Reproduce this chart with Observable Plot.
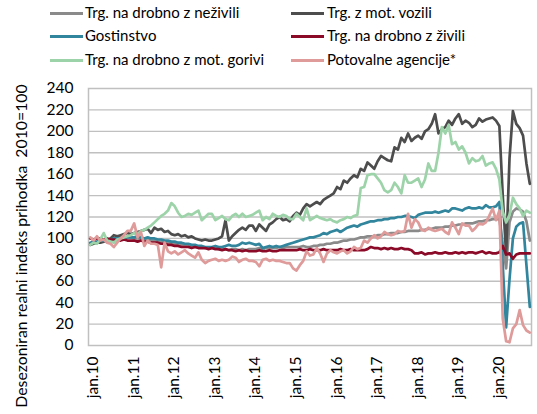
<!DOCTYPE html>
<html>
<head>
<meta charset="utf-8">
<script src="https://cdn.jsdelivr.net/npm/d3@7"></script>
<script src="https://cdn.jsdelivr.net/npm/@observablehq/plot@0.6"></script>
<style>
  html, body { margin: 0; padding: 0; background: #fff; }
  #wrap { position: relative; width: 537px; height: 414px; font-family: Lato, sans-serif; color: #000; overflow: hidden; }
  #chart { position: absolute; left: 0; top: 0; }
  .leg { position: absolute; font-size: 15px; line-height: 1; white-space: nowrap; }
  .sw { position: absolute; width: 33px; height: 3px; }
  #ylab { position: absolute; left: 20px; top: 246px; transform: translate(-50%, -50%) rotate(-90deg); font-size: 15.8px; white-space: pre; }
</style>
</head>
<body>
<div id="wrap">
  <div id="chart"></div>
  <div id="legend"></div>
  <div id="ylab">Desezoniran realni indeks prihodka  2010=100</div>
</div>
<script>
// ---- Data (monthly, jan.10 – nov.20) ----
const seriesNames = [
  "Trg. na drobno z neživili",
  "Trg. z mot. vozili",
  "Gostinstvo",
  "Trg. na drobno z živili",
  "Trg. na drobno z mot. gorivi",
  "Potovalne agencije*"
];
const seriesColors = ["#8a8a8a", "#4d4d4d", "#31859c", "#8b0a27", "#9dd3a8", "#df9a9a"];

const neziv = [
  95,96,96,97,98,99,99,100,100,101,100,101,
  101,100,100,100,99,99,98,98,97,97,96,96,
  96,95,95,94,94,93,93,92,92,92,91,91,
  91,91,90,90,90,89,90,90,89,90,89,90,
  90,90,91,90,91,91,91,91,92,91,92,92,
  92,92,92,93,92,92,93,93,94,94,95,95,
  96,96,97,98,98,99,99,100,101,101,102,102,
  102,103,103,104,104,105,105,105,106,106,107,107,
  107,107,108,108,109,109,110,110,110,111,111,112,
  112,113,113,114,114,114,115,116,116,117,117,118,
  118,118,95,72,115,125,128,127,125,116,98
];
const vozila = [
  94,95,96,96,97,98,100,103,102,103,104,105,
  104,105,106,107,108,109,105,110,108,109,106,107,
  104,103,104,102,103,101,102,100,99,98,99,98,
  98,99,100,102,117,98,102,105,108,110,108,112,
  112,107,113,110,107,113,115,118,120,117,118,116,
  121,124,122,128,132,130,132,134,132,136,138,140,
  142,148,146,154,152,156,159,157,165,163,171,168,
  165,172,177,175,173,172,185,183,194,190,198,191,
  194,196,193,200,202,207,216,198,202,204,210,206,
  212,216,207,210,208,204,206,212,209,211,212,213,
  210,205,140,85,175,219,207,203,196,170,151
];
const gostinstvo = [
  96,97,97,98,98,99,99,100,100,100,101,101,
  101,101,102,101,100,101,100,100,99,99,98,98,
  97,97,96,96,95,95,94,94,93,93,92,92,
  92,93,92,92,93,94,93,93,94,96,95,96,
  95,94,95,91,92,93,92,93,92,93,94,95,
  96,97,98,99,100,101,101,102,103,105,104,106,
  107,108,106,108,110,111,112,111,113,114,115,116,
  116,117,117,118,118,119,119,120,120,121,121,120,
  119,122,123,124,124,124,125,124,125,126,125,128,
  128,127,126,128,129,128,128,129,128,131,129,129,
  130,134,75,17,62,100,111,114,115,75,36
];
const zivila = [
  100,99,100,100,99,100,99,99,98,98,99,98,
  98,98,97,98,97,97,96,96,96,95,95,94,
  94,93,93,92,92,92,91,92,91,91,91,90,
  91,90,90,89,90,89,89,88,89,88,89,88,
  88,88,89,88,88,89,88,88,89,89,89,89,
  89,89,90,89,89,90,89,89,89,90,89,89,
  89,89,90,89,89,90,89,89,89,89,90,92,
  91,91,90,91,90,91,90,90,91,90,90,89,
  86,86,87,85,86,86,87,86,86,87,86,86,
  87,86,87,86,87,87,86,87,88,86,87,86,
  86,87,93,85,86,81,85,86,86,86,86
];
const gorivi = [
  94,96,95,99,105,98,97,96,99,100,101,102,
  103,105,104,107,108,110,112,115,118,121,123,126,
  133,130,124,120,121,123,122,124,126,117,120,123,
  123,117,119,121,118,117,121,123,120,123,120,121,
  122,124,126,117,120,118,123,121,120,122,121,118,
  118,123,120,117,128,117,119,121,119,118,117,118,
  116,115,117,118,120,119,121,122,147,148,159,160,
  160,156,152,145,143,145,152,148,142,159,152,152,
  154,156,148,155,170,163,163,180,204,198,206,188,
  190,183,186,180,170,175,172,173,177,168,170,171,
  165,155,125,115,122,138,132,128,121,126,124
];
const agencije = [
  101,98,102,98,99,96,95,92,96,100,103,107,
  107,114,101,106,93,98,95,95,94,73,96,88,
  86,88,85,87,89,86,84,82,87,80,77,79,
  80,81,79,80,79,80,83,82,78,80,81,79,
  79,78,74,80,81,79,80,79,79,78,77,77,
  72,70,75,79,88,84,85,91,86,78,86,89,
  87,86,88,89,86,88,92,90,91,98,96,100,
  103,100,102,106,104,103,104,107,106,107,123,110,
  118,115,108,107,110,108,107,108,109,106,104,115,
  110,104,114,112,112,107,110,114,113,115,121,128,
  117,126,25,4,3,16,20,33,19,14,12
];
const xTickLabels = ["jan.10","jan.11","jan.12","jan.13","jan.14","jan.15","jan.16","jan.17","jan.18","jan.19","jan.20"];
const yTicks = [0,20,40,60,80,100,120,140,160,180,200,220,240];

// ---- Build ----
const allSeries = [neziv, vozila, gostinstvo, zivila, gorivi, agencije];
const nMonths = neziv.length;
const xTicks = xTickLabels.map((_, i) => i * 12);
const tables = allSeries.map((vals, k) => vals.map((v, i) => ({m: i, v, s: seriesNames[k]})));

const chart = Plot.plot({
  width: 537,
  height: 414,
  marginTop: 88,
  marginBottom: 69,
  marginLeft: 88,
  marginRight: 6,
  style: {fontFamily: "Lato, sans-serif", fontSize: "15px", color: "#000", background: "transparent"},
  x: {domain: [-0.5, nMonths - 0.5], axis: null},
  y: {domain: [0, 240], axis: null},
  color: {domain: seriesNames, range: seriesColors},
  marks: [
    Plot.ruleY(yTicks.slice(1, -1), {stroke: "#c0c0c0", strokeWidth: 1.3}),
    Plot.frame({stroke: "#c0c0c0", strokeWidth: 1.5}),
    Plot.axisY(yTicks, {tickSize: 0, tickPadding: 15, fontSize: 15.5, label: null}),
    Plot.axisX(xTicks, {tickSize: 0, tickPadding: 11, tickRotate: -90, fontSize: 15.5, dx: 3, label: null,
      tickFormat: (d) => xTickLabels[d / 12]}),
    ...tables.map((t) => Plot.line(t, {x: "m", y: "v", stroke: "s", strokeWidth: 2.7, strokeLinejoin: "round"}))
  ]
});
document.getElementById("chart").appendChild(chart);

// ---- Legend ----
const legend = document.getElementById("legend");
const legPos = [
  {sx: 50, tx: 85, y: 13}, {sx: 291, tx: 327, y: 13},
  {sx: 50, tx: 85, y: 36}, {sx: 291, tx: 327, y: 36},
  {sx: 50, tx: 85, y: 60}, {sx: 291, tx: 327, y: 60}
];
seriesNames.forEach((name, i) => {
  const p = legPos[i];
  const sw = document.createElement("div");
  sw.className = "sw";
  sw.style.left = p.sx + "px";
  sw.style.top = (p.y - 1.5) + "px";
  sw.style.background = seriesColors[i];
  legend.appendChild(sw);
  const t = document.createElement("div");
  t.className = "leg";
  t.textContent = name;
  t.style.left = p.tx + "px";
  t.style.top = (p.y - 8) + "px";
  legend.appendChild(t);
});
</script>
</body>
</html>
